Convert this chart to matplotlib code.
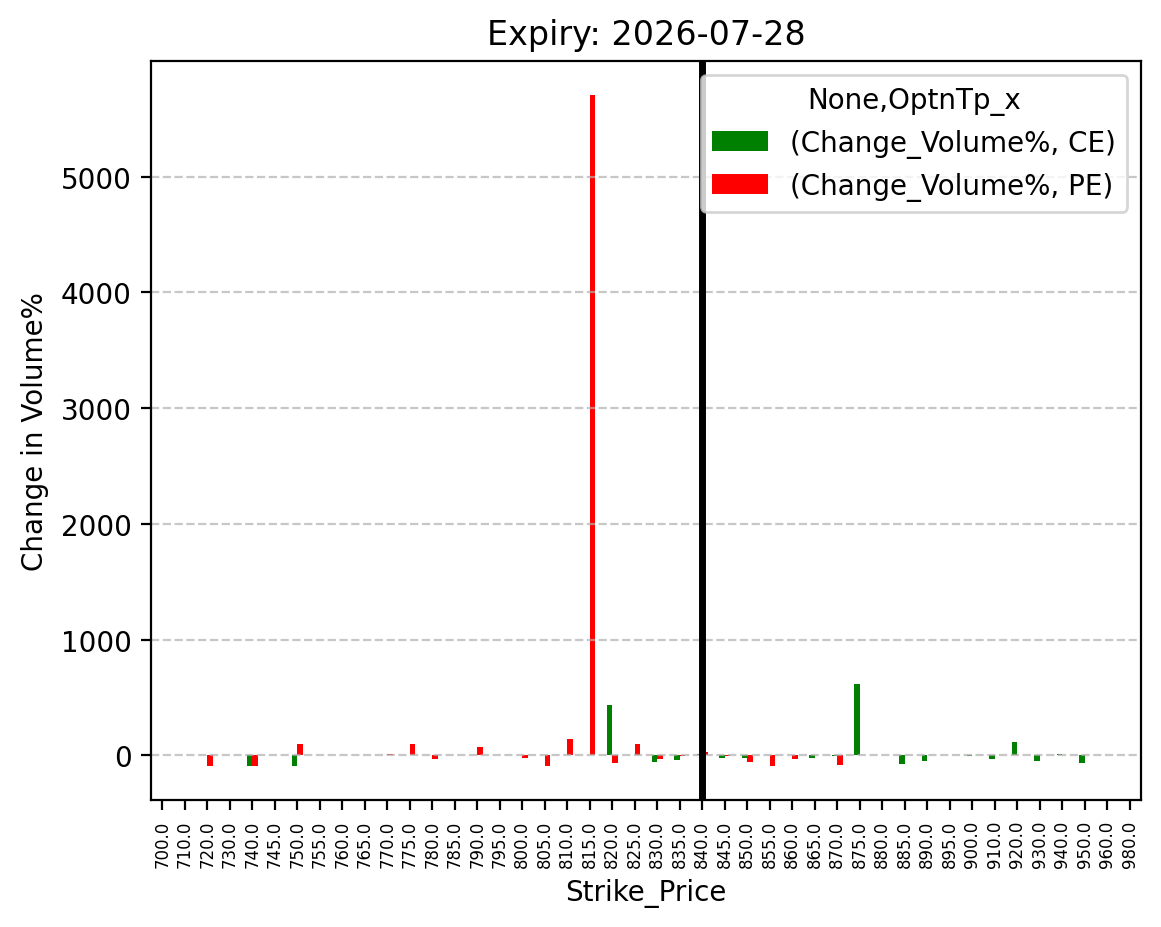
import numpy as np
import matplotlib
matplotlib.use("Agg")
import matplotlib.pyplot as plt

nan = np.nan
strikes = [700, 710, 720, 730, 740, 745, 750, 755, 760, 765, 770, 775, 780, 785,
           790, 795, 800, 805, 810, 815, 820, 825, 830, 835, 840, 845, 850, 855,
           860, 865, 870, 875, 880, 885, 890, 895, 900, 910, 920, 930, 940, 950,
           960, 980]
ce_values = [nan, nan, nan, nan, -95, nan, -95, nan, nan, nan, nan, nan, nan, nan,
             nan, nan, nan, nan, nan, nan, 432, nan, -55, -37, 14, -26, -26, nan,
             nan, -26, -8, 613, nan, -78, -52, nan, -8, -35, 118, -52, 8, -69,
             nan, nan]
pe_values = [nan, nan, -95, nan, -95, nan, 101, nan, nan, nan, 15, 100, -35, nan,
             75, nan, -26, -95, 144, 5708, -69, 101, -29, -8, 32, -8, -55, -95,
             -35, nan, -86, nan, nan, nan, nan, nan, nan, nan, nan, nan, nan, nan,
             nan, nan]
tick_labels = [f"{s:.1f}" for s in strikes]
atm_strike = 840

fig = plt.figure(figsize=(1161/200, 928/200), dpi=200)
ax = fig.add_axes([151/1161, 1-801/928, (1141-151)/1161, (801-62)/928])

x = np.arange(len(strikes))
w = 0.25
ax.bar(x - w/2, ce_values, width=w, color="green", label="(Change_Volume%, CE)")
ax.bar(x + w/2, pe_values, width=w, color="red", label="(Change_Volume%, PE)")
ax.set_xlim(-0.5, len(strikes) - 0.5)
ax.set_xticks(x)
ax.set_xticklabels(tick_labels, rotation=90, fontsize=6)
ax.axvline(strikes.index(atm_strike), color="black", linewidth=2.5)
ax.grid(axis="y", linestyle="--", alpha=0.7)
ax.set_title("Expiry: 2026-07-28")
ax.set_xlabel("Strike_Price")
ax.set_ylabel("Change in Volume%")
ax.legend(title="None,OptnTp_x", loc="upper right")

fig.savefig("out.png", dpi=200)
